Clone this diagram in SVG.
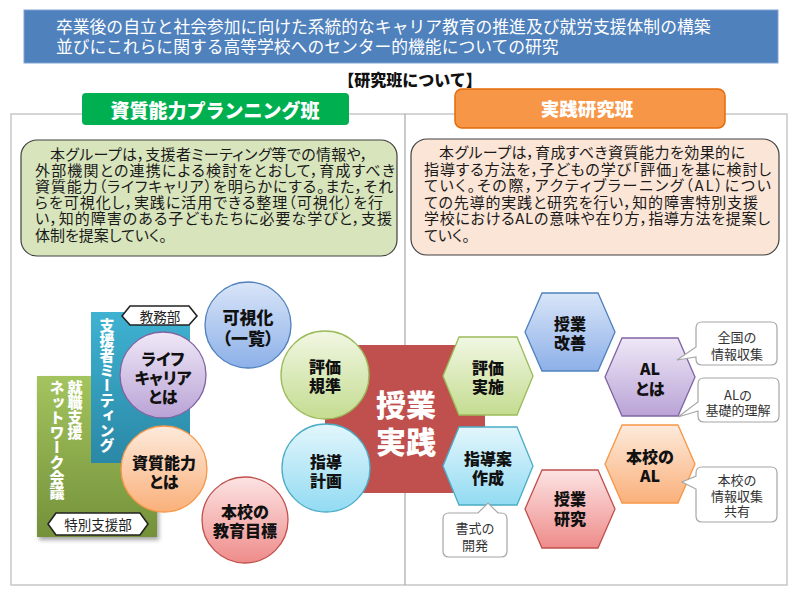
<svg xmlns="http://www.w3.org/2000/svg" width="800" height="598" viewBox="0 0 800 598">
<style>
text{font-family:"Noto Sans CJK JP","Noto Sans",sans-serif;}
.title{font-size:16.8px;fill:#fff;}
.hdr{font-size:16px;font-weight:900;fill:#111;text-anchor:middle;dominant-baseline:central;}
.lab{font-size:19px;font-weight:900;fill:#fff;text-anchor:middle;dominant-baseline:central;}
.body{font-size:15px;fill:#1a1a1a;font-feature-settings:"palt";}
.nb{font-size:16px;font-weight:900;fill:#111;text-anchor:middle;dominant-baseline:central;font-feature-settings:"palt";}
.cl{font-size:13px;fill:#333;text-anchor:middle;dominant-baseline:central;}
.tag{font-size:13.5px;fill:#222;text-anchor:middle;dominant-baseline:central;}
.vt{font-size:15px;font-weight:900;fill:#fff;writing-mode:vertical-rl;}
.big{font-size:30px;font-weight:900;fill:#fff;text-anchor:middle;dominant-baseline:central;}
.call{fill:#fff;stroke:#a6a6a6;stroke-width:1.2;}
.tagbox{fill:#fff;stroke:#222;stroke-width:1.6;}
</style>
<defs>
<linearGradient id="gPur" x1="0" y1="0" x2="0" y2="1"><stop offset="0" stop-color="#efe8f7"/><stop offset="1" stop-color="#b9a3d6"/></linearGradient>
<linearGradient id="gOra" x1="0" y1="0" x2="0" y2="1"><stop offset="0" stop-color="#fdeadb"/><stop offset="1" stop-color="#fab07a"/></linearGradient>
<linearGradient id="gBlu" x1="0" y1="0" x2="0" y2="1"><stop offset="0" stop-color="#d9e5f8"/><stop offset="1" stop-color="#8cb0e8"/></linearGradient>
<linearGradient id="gRed" x1="0" y1="0" x2="0" y2="1"><stop offset="0" stop-color="#fce3e3"/><stop offset="1" stop-color="#ee8c8a"/></linearGradient>
<linearGradient id="gGrn" x1="0" y1="0" x2="0" y2="1"><stop offset="0" stop-color="#f1f7e3"/><stop offset="1" stop-color="#c4dc90"/></linearGradient>
<linearGradient id="gCya" x1="0" y1="0" x2="0" y2="1"><stop offset="0" stop-color="#e3f6fc"/><stop offset="1" stop-color="#92dbf2"/></linearGradient>
<linearGradient id="gTeal" x1="0" y1="0" x2="0" y2="1"><stop offset="0" stop-color="#3fb2d2"/><stop offset="1" stop-color="#2a88a6"/></linearGradient>
<linearGradient id="gOlive" x1="0" y1="0" x2="0" y2="1"><stop offset="0" stop-color="#a3c45e"/><stop offset="1" stop-color="#74913a"/></linearGradient>
<filter id="sh" x="-10%" y="-10%" width="130%" height="130%"><feDropShadow dx="2" dy="3" stdDeviation="2" flood-color="#000" flood-opacity="0.35"/></filter>
</defs>
<rect width="800" height="598" fill="#fff"/>

<g id="frame">
<rect x="11" y="114" width="776" height="471" fill="none" stroke="#bfbfbf" stroke-width="1.3"/>
<line x1="405" y1="114" x2="405" y2="585" stroke="#a6a6a6" stroke-width="1.2"/>
</g>

<g id="title">
<rect x="24" y="10" width="754" height="53" fill="#4f81bd" stroke="#7fa3d4" stroke-width="1"/>
<text class="title" x="56" y="33">卒業後の自立と社会参加に向けた系統的なキャリア教育の推進及び就労支援体制の構築</text>
<text class="title" x="56" y="53">並びにこれらに関する高等学校へのセンター的機能についての研究</text>
</g>
<text class="hdr" x="410" y="79">【研究班について】</text>

<g id="label-left">
<rect x="82" y="93" width="267" height="32" rx="4" fill="#00b050"/>
<text class="lab" x="215" y="109">資質能力プランニング班</text>
</g>
<g id="label-right">
<rect x="455" y="89" width="270" height="39" rx="7" fill="#f79646" stroke="#e36c0a" stroke-width="1.5"/>
<text class="lab" x="587" y="108" style="font-size:18.5px">実践研究班</text>
</g>

<g id="desc-left">
<rect x="21" y="140" width="376" height="116" rx="16" fill="#d8e4bc" stroke="#404040" stroke-width="1.2"/>
<text class="body" x="50" y="160" textLength="318" lengthAdjust="spacing">本グループは，支援者ミーティング等での情報や，</text>
<text class="body" x="35" y="176" textLength="360" lengthAdjust="spacing">外部機関との連携による検討をとおして，育成すべき</text>
<text class="body" x="35" y="192" textLength="358" lengthAdjust="spacing">資質能力（ライフキャリア）を明らかにする。また，それ</text>
<text class="body" x="35" y="208" textLength="348" lengthAdjust="spacing">らを可視化し，実践に活用できる整理（可視化）を行</text>
<text class="body" x="35" y="224" textLength="357" lengthAdjust="spacing">い，知的障害のある子どもたちに必要な学びと，支援</text>
<text class="body" x="35" y="241">体制を提案していく。</text>
</g>
<g id="desc-right">
<rect x="411" y="139" width="368" height="116" rx="16" fill="#fbe5d6" stroke="#404040" stroke-width="1.2"/>
<text class="body" x="439" y="158" textLength="306" lengthAdjust="spacing">本グループは，育成すべき資質能力を効果的に</text>
<text class="body" x="424" y="175" textLength="347" lengthAdjust="spacing">指導する方法を，子どもの学び「評価」を基に検討し</text>
<text class="body" x="424" y="191" textLength="347" lengthAdjust="spacing">ていく。その際，アクティブラーニング（AL）につい</text>
<text class="body" x="424" y="208" textLength="334" lengthAdjust="spacing">ての先導的実践と研究を行い，知的障害特別支援</text>
<text class="body" x="424" y="224" textLength="346" lengthAdjust="spacing">学校におけるALの意味や在り方，指導方法を提案し</text>
<text class="body" x="424" y="241">ていく。</text>
</g>

<g id="network-meeting">
<rect x="37" y="376" width="120" height="161" fill="url(#gOlive)" filter="url(#sh)"/>
<text class="vt" x="75" y="380">就職支援</text>
<text class="vt" x="57" y="380">ネットワーク会議</text>
</g>
<g id="support-meeting">
<rect x="91" y="312" width="99" height="151" fill="url(#gTeal)"/>
<text class="vt" x="107" y="318">支援者ミーティング</text>
</g>
<g id="tag-kyomu">
<polygon class="tagbox" points="122,316 130,306 189,306 197,316 189,325 130,325"/>
<text class="tag" x="160" y="316">教務部</text>
</g>
<g id="tag-tokubetsu">
<polygon class="tagbox" points="48,524 56,513 140,513 148,524 140,535 56,535"/>
<text class="tag" x="98" y="524">特別支援部</text>
</g>

<g id="center-practice">
<rect x="325" y="345" width="160" height="148" fill="#c0504d"/>
<text class="big" x="406" y="403">授業</text>
<text class="big" x="406" y="440">実践</text>
</g>

<g id="c-lifecareer">
<circle cx="163" cy="375" r="43" fill="url(#gPur)" stroke="#8064a2" stroke-width="1.3"/>
<text class="nb" x="163" y="358">ライフ</text>
<text class="nb" x="163" y="377">キャリア</text>
<text class="nb" x="163" y="396">とは</text>
</g>
<g id="c-shishitsu">
<circle cx="164" cy="469" r="43" fill="url(#gOra)" stroke="#f79646" stroke-width="1.3"/>
<text class="nb" x="164" y="462">資質能力</text>
<text class="nb" x="164" y="481">とは</text>
</g>
<g id="c-kashika">
<circle cx="248" cy="325" r="43" fill="url(#gBlu)" stroke="#4f81bd" stroke-width="1.3"/>
<text class="nb" x="248" y="316" style="font-size:17px">可視化</text>
<text class="nb" x="248" y="337" style="font-size:17px">（一覧）</text>
</g>
<g id="c-mokuhyo">
<circle cx="245" cy="520" r="43" fill="url(#gRed)" stroke="#c0504d" stroke-width="1.3"/>
<text class="nb" x="245" y="511">本校の</text>
<text class="nb" x="245" y="530">教育目標</text>
</g>
<g id="c-kijun">
<circle cx="325" cy="375" r="44" fill="url(#gGrn)" stroke="#9bbb59" stroke-width="1.3"/>
<text class="nb" x="325" y="366">評価</text>
<text class="nb" x="325" y="385">規準</text>
</g>
<g id="c-keikaku">
<circle cx="326" cy="468" r="44" fill="url(#gCya)" stroke="#4bacc6" stroke-width="1.3"/>
<text class="nb" x="326" y="461">指導</text>
<text class="nb" x="326" y="480">計画</text>
</g>

<g id="h-jisshi">
<polygon points="443,376 459,337 517,337 533,376 517,415 459,415" fill="url(#gGrn)" stroke="#9bbb59" stroke-width="1.3"/>
<text class="nb" x="488" y="367">評価</text>
<text class="nb" x="488" y="386">実施</text>
</g>
<g id="h-sakusei">
<polygon points="443,466 459,427 517,427 533,466 517,505 459,505" fill="url(#gCya)" stroke="#4bacc6" stroke-width="1.3"/>
<text class="nb" x="488" y="458">指導案</text>
<text class="nb" x="488" y="477">作成</text>
</g>
<g id="h-kaizen">
<polygon points="525,332 542,293 598,293 615,332 598,371 542,371" fill="url(#gBlu)" stroke="#4f81bd" stroke-width="1.3"/>
<text class="nb" x="570" y="323">授業</text>
<text class="nb" x="570" y="342">改善</text>
</g>
<g id="h-al">
<polygon points="605,377 622,338 678,338 695,377 678,416 622,416" fill="url(#gPur)" stroke="#8064a2" stroke-width="1.3"/>
<text class="nb" x="650" y="368">AL</text>
<text class="nb" x="650" y="388">とは</text>
</g>
<g id="h-honkoal">
<polygon points="605,464 622,425 678,425 695,464 678,503 622,503" fill="url(#gOra)" stroke="#f79646" stroke-width="1.3"/>
<text class="nb" x="650" y="456">本校の</text>
<text class="nb" x="650" y="475">AL</text>
</g>
<g id="h-kenkyu">
<polygon points="525,509 542,470 598,470 615,509 598,548 542,548" fill="url(#gRed)" stroke="#c0504d" stroke-width="1.3"/>
<text class="nb" x="570" y="498">授業</text>
<text class="nb" x="570" y="518">研究</text>
</g>

<g id="connectors"></g>

<g id="call-shoshiki">
<path class="call" d="M449,513 H478 L488,503 L498,513 H501 Q507,513 507,519 V551 Q507,557 501,557 H449 Q443,557 443,551 V519 Q443,513 449,513 Z"/>
<text class="cl" x="475" y="527">書式の</text>
<text class="cl" x="475" y="544">開発</text>
</g>
<g id="call-zenkoku">
<path class="call" d="M702,322 H771 Q777,322 777,328 V359 Q777,365 771,365 H702 Q696,365 696,359 V357 L677,360 L696,347 V328 Q696,322 702,322 Z"/>
<text class="cl" x="737" y="336">全国の</text>
<text class="cl" x="737" y="353">情報収集</text>
</g>
<g id="call-kiso">
<path class="call" d="M704,378 H773 Q779,378 779,384 V416 Q779,422 773,422 H704 Q698,422 698,416 V411 L678,417 L698,402 V384 Q698,378 704,378 Z"/>
<text class="cl" x="738" y="394">ALの</text>
<text class="cl" x="738" y="409">基礎的理解</text>
</g>
<g id="call-honko">
<path class="call" d="M702,467 H771 Q777,467 777,473 V516 Q777,522 771,522 H702 Q696,522 696,516 V489 L682,482 L696,476 V473 Q696,467 702,467 Z"/>
<text class="cl" x="737" y="479">本校の</text>
<text class="cl" x="737" y="495">情報収集</text>
<text class="cl" x="737" y="510">共有</text>
</g>
</svg>
